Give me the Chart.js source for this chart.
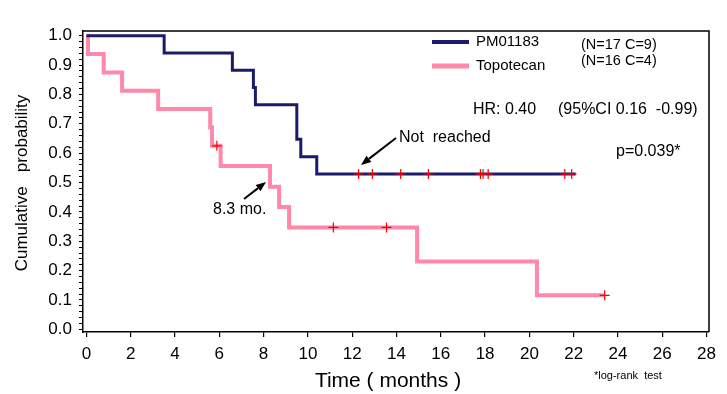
<!DOCTYPE html>
<html><head><meta charset="utf-8">
<script src="https://cdn.jsdelivr.net/npm/chart.js@4.4.0/dist/chart.umd.min.js"></script>
<style>html,body{margin:0;padding:0;background:#fff;}#wrap{width:727px;height:394px;position:relative;}</style>
</head><body><div id="wrap"><canvas id="c" width="727" height="394"></canvas></div>
<script>
// ---- data ----
const seriesNames = ['PM01183', 'Topotecan'];
const seriesNotes = ['(N=17 C=9)', '(N=16 C=4)'];
const pmTimes   = [0, 3.51, 6.59, 7.54, 7.63, 9.50, 9.68, 10.40, 22.09];
const pmSurv    = [1, 0.941, 0.882, 0.824, 0.765, 0.647, 0.588, 0.529, 0.529];
const pmCensor  = [12.29, 12.91, 14.19, 15.44, 17.79, 17.91, 18.14, 21.60, 21.91];
const topoTimes = [0, 0.07, 0.78, 1.61, 3.24, 5.59, 5.67, 6.06, 8.29, 8.70, 9.15, 14.93, 20.34, 23.40];
const topoSurv  = [1, 0.9375, 0.875, 0.8125, 0.75, 0.6875, 0.625, 0.556, 0.486, 0.417, 0.347, 0.231, 0.116, 0.116];
const topoCensor = [5.89, 11.15, 13.55, 23.40];
const xTickLabels = ['0','2','4','6','8','10','12','14','16','18','20','22','24','26','28'];
const yTickLabels = ['0.0','0.1','0.2','0.3','0.4','0.5','0.6','0.7','0.8','0.9','1.0'];
const xTitle = 'Time ( months )';
const yTitle = 'Cumulative   probability';

const NAVY = '#1b1b6c', PINK = '#ff88ab', RED = '#ff0000';
const FONT = '"Liberation Sans", Arial, sans-serif';

function stepAt(times, surv, t) {
  let v = surv[0];
  for (let i = 0; i < times.length; i++) if (times[i] <= t) v = surv[i];
  return v;
}
const toPts = (ts, ss) => ts.map((t, i) => ({x: t, y: ss[i]}));
const censorPts = (cs, ts, ss) => cs.map(t => ({x: t, y: stepAt(ts, ss, t)}));

const xTickVals = xTickLabels.map(Number);
const yMajorVals = yTickLabels.map(Number);
const yMinorVals = [];
for (let k = 0; k <= 50; k++) yMinorVals.push(k / 50);

const overlay = {
  id: 'overlay',
  afterDraw(chart) {
    const ctx = chart.ctx, a = chart.chartArea;
    ctx.save();
    // frame
    ctx.strokeStyle = '#000'; ctx.lineWidth = 1.5;
    ctx.beginPath();
    ctx.moveTo(a.left, a.top); ctx.lineTo(a.right, a.top); ctx.lineTo(a.right, a.bottom);
    ctx.stroke();
    // legend
    ctx.lineCap = 'butt';
    ctx.strokeStyle = NAVY; ctx.lineWidth = 4;
    ctx.beginPath(); ctx.moveTo(432, 42); ctx.lineTo(469, 42); ctx.stroke();
    ctx.strokeStyle = PINK; ctx.lineWidth = 5;
    ctx.beginPath(); ctx.moveTo(432, 66); ctx.lineTo(469, 66); ctx.stroke();
    ctx.fillStyle = '#000'; ctx.textBaseline = 'middle'; ctx.textAlign = 'left';
    ctx.font = '15px ' + FONT;
    ctx.fillText(seriesNames[0], 476, 42);
    ctx.fillText(seriesNames[1], 476, 66);
    ctx.font = '14.5px ' + FONT;
    ctx.fillText(seriesNotes[0], 581, 45);
    ctx.fillText(seriesNotes[1], 581, 61);
    ctx.font = '16px ' + FONT;
    ctx.fillText('HR: 0.40', 473, 110);
    ctx.fillText('(95%CI 0.16  -0.99)', 558, 110);
    ctx.fillText('Not  reached', 399, 138);
    ctx.fillText('p=0.039*', 616, 152);
    ctx.fillText('8.3 mo.', 213, 210);
    ctx.font = '11px ' + FONT;
    ctx.fillText('*log-rank  test', 594, 376);
    // axis titles
    ctx.font = '21px ' + FONT; ctx.textAlign = 'center';
    ctx.fillText(xTitle, 388, 381);
    ctx.save();
    ctx.translate(22, 183); ctx.rotate(-Math.PI / 2);
    ctx.font = '17px ' + FONT;
    ctx.fillText(yTitle, 0, 0);
    ctx.restore();
    // arrows
    const arrow = (x1, y1, x2, y2) => {
      ctx.strokeStyle = '#000'; ctx.fillStyle = '#000'; ctx.lineWidth = 2;
      const ang = Math.atan2(y2 - y1, x2 - x1), L = 10, W = 4;
      const bx = x2 - L * Math.cos(ang), by = y2 - L * Math.sin(ang);
      ctx.beginPath(); ctx.moveTo(x1, y1); ctx.lineTo(bx, by); ctx.stroke();
      ctx.beginPath(); ctx.moveTo(x2, y2);
      ctx.lineTo(bx + W * Math.sin(ang), by - W * Math.cos(ang));
      ctx.lineTo(bx - W * Math.sin(ang), by + W * Math.cos(ang));
      ctx.closePath(); ctx.fill();
    };
    arrow(244, 199, 266, 182);
    arrow(396, 138, 361, 165);
    ctx.restore();
  }
};

new Chart(document.getElementById('c'), {
  type: 'line',
  data: {
    datasets: [
      { label: seriesNames[1], data: toPts(topoTimes, topoSurv), stepped: 'before',
        borderColor: PINK, borderWidth: 4, pointRadius: 0, fill: false, order: 3 },
      { label: seriesNames[0], data: toPts(pmTimes, pmSurv), stepped: 'before',
        borderColor: NAVY, borderWidth: 3, pointRadius: 0, fill: false, order: 2 },
      { label: 'censor-pm', type: 'scatter', data: censorPts(pmCensor, pmTimes, pmSurv),
        pointStyle: 'cross', pointRadius: 5, borderColor: RED, borderWidth: 1.2, showLine: false, order: 1 },
      { label: 'censor-topo', type: 'scatter', data: censorPts(topoCensor, topoTimes, topoSurv),
        pointStyle: 'cross', pointRadius: 5, borderColor: RED, borderWidth: 1.2, showLine: false, order: 1 }
    ]
  },
  options: {
    responsive: false, animation: false, devicePixelRatio: 1,
    layout: { padding: { left: 0, top: 31, right: 18, bottom: 0 } },
    plugins: { legend: { display: false }, tooltip: { enabled: false } },
    elements: { line: { borderCapStyle: 'butt', borderJoinStyle: 'miter' } },
    scales: {
      x: {
        type: 'linear', min: -0.154, max: 28.11,
        afterBuildTicks: s => { s.ticks = xTickVals.map(v => ({value: v})); },
        afterFit: s => { s.height = 62; },
        ticks: { autoSkip: false, maxRotation: 0, padding: 7, color: '#000',
                 font: { family: FONT, size: 17 },
                 callback: (v) => xTickLabels[xTickVals.indexOf(v)] ?? '' },
        grid: { display: true, drawOnChartArea: false, drawTicks: true, tickLength: 5, color: '#000', lineWidth: 1.2 },
        border: { display: true, color: '#000', width: 1.5 }
      },
      y: {
        type: 'linear', min: -0.009, max: 1.016,
        afterBuildTicks: s => { s.ticks = yMinorVals.map(v => ({value: v})); },
        afterFit: s => { s.width = 83; },
        ticks: { autoSkip: false, padding: 7, color: '#000',
                 font: { family: FONT, size: 17 },
                 callback: (v) => {
                   const i = yMajorVals.findIndex(m => Math.abs(m - v) < 1e-6);
                   return i >= 0 ? yTickLabels[i] : '';
                 } },
        grid: { display: true, drawOnChartArea: false, drawTicks: true, tickLength: 4, color: '#000', lineWidth: 1 },
        border: { display: true, color: '#000', width: 1.5 }
      }
    }
  },
  plugins: [overlay]
});
</script></body></html>
